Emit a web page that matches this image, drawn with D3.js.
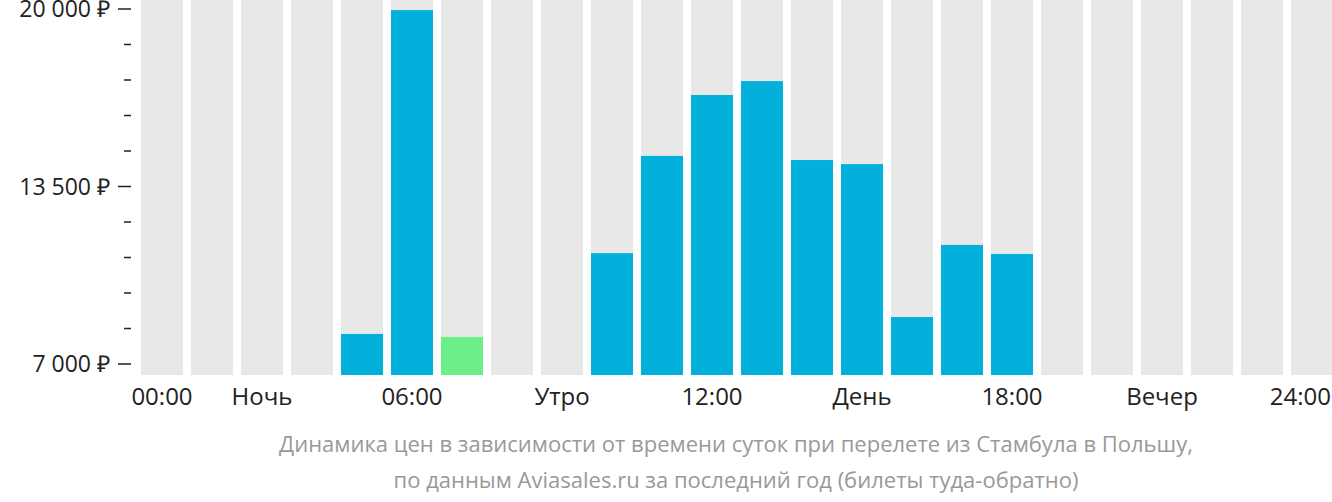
<!DOCTYPE html>
<html><head><meta charset="utf-8">
<script src="https://cdn.jsdelivr.net/npm/d3@7"></script>
<style>body{margin:0;background:#fff}text{font-family:"Open Sans",sans-serif}</style>
</head><body><svg id="c" width="1332" height="502"></svg>
<script>
const hours = d3.range(24);
const prices = [null,null,null,null,8100,19960,7990,null,null,11060,14620,16850,17360,14470,14320,8720,11360,11030,null,null,null,null,null,null];
const cheapest = 6;
const xLabels = ["00:00",null,"Ночь",null,null,"06:00",null,null,"Утро",null,null,"12:00",null,null,"День",null,null,"18:00",null,null,"Вечер",null,null,"24:00"];
const yTicks = d3.range(7000, 20001, 1300);
const yLabels = [7000, 13500, 20000];

const svg = d3.select("#c");
const y = d3.scaleLinear().domain([7000, 20000]).range([364, 9]);
const x = d3.scaleBand().domain(hours).range([137, 1337]).paddingInner(8/50).paddingOuter(4/50);
const fmt = v => d3.format(",")(v).replace(",", " ") + " ₽";

svg.selectAll(".bg").data(hours).join("rect")
  .attr("x", d => x(d)).attr("width", x.bandwidth())
  .attr("y", 0).attr("height", 375).attr("fill", "#e8e8e8");

svg.selectAll(".bar").data(hours.filter(h => prices[h] != null)).join("rect")
  .attr("x", d => x(d)).attr("width", x.bandwidth())
  .attr("y", d => y(prices[d])).attr("height", d => 375 - y(prices[d]))
  .attr("fill", d => d === cheapest ? "#6cef88" : "#03b0dc");

svg.selectAll(".tk").data(yTicks).join("line")
  .attr("x1", d => yLabels.includes(d) ? 118 : 124).attr("x2", 131)
  .attr("y1", d => y(d)).attr("y2", d => y(d))
  .attr("stroke", "#222").attr("stroke-width", 1.5);

svg.selectAll(".yl").data(yLabels).join("text")
  .attr("x", 110).attr("y", d => d === 20000 ? 17 : y(d) + 8).attr("text-anchor", "end")
  .attr("font-size", 23).attr("fill", "#222").text(fmt);

svg.selectAll(".xl").data(hours.filter(h => xLabels[h])).join("text")
  .attr("x", d => d === 23 ? 1331 : x(d) + x.bandwidth()/2)
  .attr("text-anchor", d => d === 23 ? "end" : "middle")
  .attr("y", 405).attr("font-size", 24).attr("fill", "#222").text(d => xLabels[d]);

const caption = ["Динамика цен в зависимости от времени суток при перелете из Стамбула в Польшу,",
  "по данным Aviasales.ru за последний год (билеты туда-обратно)"];
svg.selectAll(".cap").data(caption).join("text")
  .attr("x", 736).attr("y", (d, i) => 452 + i * 36).attr("text-anchor", "middle")
  .attr("font-size", 22).attr("fill", "#999").text(d => d);
</script></body></html>
